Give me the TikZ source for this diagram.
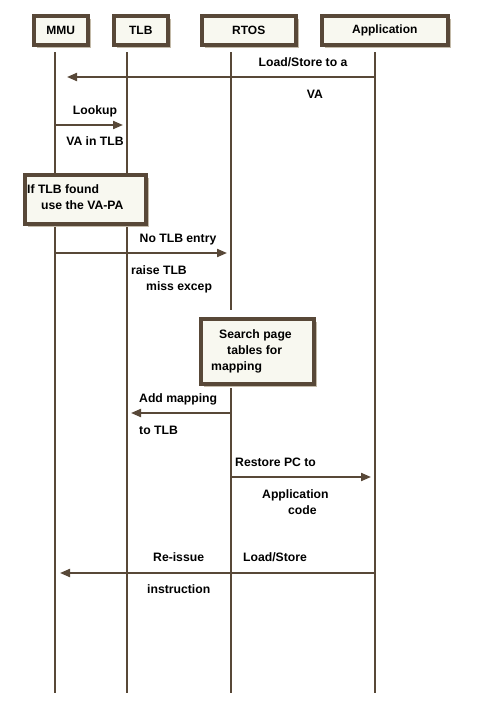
\documentclass[tikz,border=0pt]{standalone}
\usepackage{fontspec}
\setmainfont{Liberation Sans}
\usetikzlibrary{arrows.meta,shadows}
\definecolor{ln}{HTML}{584838}
\definecolor{bx}{HTML}{F8F8F0}
\definecolor{sh}{HTML}{C4BBAA}
\tikzset{
  headbox/.style={draw=ln, line width=3.5pt, fill=bx, minimum height=29pt, inner sep=0pt,
    font=\fontsize{12}{14}\selectfont\bfseries, anchor=north west,
    drop shadow={shadow xshift=3pt, shadow yshift=-3pt, fill=sh, opacity=1}},
  notebox/.style={draw=ln, line width=3.5pt, fill=bx, inner sep=0pt, anchor=north west,
    drop shadow={shadow xshift=3pt, shadow yshift=-3pt, fill=sh, opacity=1}},
  life/.style={draw=ln, line width=2pt},
  msg/.style={draw=ln, line width=2pt, -{Triangle[length=10pt,width=8pt]}},
  lbl/.style={font=\fontsize{12.2}{14}\selectfont\bfseries, inner sep=0pt, text=black},
}
\begin{document}
\begin{tikzpicture}[x=1pt,y=-1pt]
\useasboundingbox[fill=white] (0,0) rectangle (500,707);
% heads
\node[headbox, minimum width=54pt] (mmu) at (32,14) {MMU};
\node[headbox, minimum width=54pt] (tlb) at (112,14) {TLB};
\node[headbox, minimum width=94pt] (rtos) at (200,14) {RTOS};
\node[headbox, minimum width=126pt] (app) at (320,14) {Application};
% lifeline coordinates
\coordinate (mmuT) at (55,52);  \coordinate (mmuB) at (55,693);
\coordinate (tlbT) at (127,52); \coordinate (tlbB) at (127,693);
\coordinate (rtT) at (231,52);  \coordinate (rtM1) at (231,310);
\coordinate (rtM2) at (231,388); \coordinate (rtB) at (231,693);
\coordinate (apT) at (375,52);  \coordinate (apB) at (375,693);
\draw[life] (mmuT) -- (mmuB);
\draw[life] (tlbT) -- (tlbB);
\draw[life] (rtT) -- (rtM1);
\draw[life] (rtM2) -- (rtB);
\draw[life] (apT) -- (apB);
% message anchor points
\coordinate (a1s) at (375,77);  \coordinate (a1e) at (67,77);
\coordinate (a2s) at (55,125);  \coordinate (a2e) at (123,125);
\coordinate (a3s) at (55,253);  \coordinate (a3e) at (227,253);
\coordinate (a4s) at (231,413); \coordinate (a4e) at (131,413);
\coordinate (a5s) at (231,477); \coordinate (a5e) at (371,477);
\coordinate (a6s) at (375,573); \coordinate (a6e) at (60,573);
\draw[msg] (a1s) -- (a1e);
\draw[msg] (a2s) -- (a2e);
\draw[msg] (a3s) -- (a3e);
\draw[msg] (a4s) -- (a4e);
\draw[msg] (a5s) -- (a5e);
\draw[msg] (a6s) -- (a6e);
% notes
\node[notebox, minimum width=121pt, minimum height=49pt] (n1) at (23,173) {};
\node[notebox, minimum width=113pt, minimum height=65pt] (n2) at (199,317) {};
% labels
\node[lbl, anchor=mid] (l1) at (303,64) {Load/Store to a};
\node[lbl, anchor=mid] (l2) at (315,96) {VA};
\node[lbl, anchor=mid] (l3) at (95,112) {Lookup};
\node[lbl, anchor=mid] (l4) at (95,143) {VA in TLB};
\node[lbl, anchor=mid west] (l5) at (27,191) {If TLB found};
\node[lbl, anchor=mid west] (l6) at (41,207) {use the VA-PA};
\node[lbl, anchor=mid] (l7) at (178,240) {No TLB entry};
\node[lbl, anchor=mid west] (l8) at (131,272) {raise TLB};
\node[lbl, anchor=mid west] (l9) at (146,288) {miss excep};
\node[lbl, anchor=mid west] (l10) at (219,336) {Search page};
\node[lbl, anchor=mid west] (l11) at (227,352) {tables for};
\node[lbl, anchor=mid west] (l12) at (211,368) {mapping};
\node[lbl, anchor=mid west] (l13) at (139,400) {Add mapping};
\node[lbl, anchor=mid west] (l14) at (139,432) {to TLB};
\node[lbl, anchor=mid west] (l15) at (235,464) {Restore PC to};
\node[lbl, anchor=mid west] (l16) at (262,496) {Application};
\node[lbl, anchor=mid west] (l17) at (288,512) {code};
\node[lbl, anchor=mid west] (l18) at (153,559) {Re-issue};
\node[lbl, anchor=mid west] (l19) at (243,559) {Load/Store};
\node[lbl, anchor=mid west] (l20) at (147,591) {instruction};
\end{tikzpicture}
\end{document}
